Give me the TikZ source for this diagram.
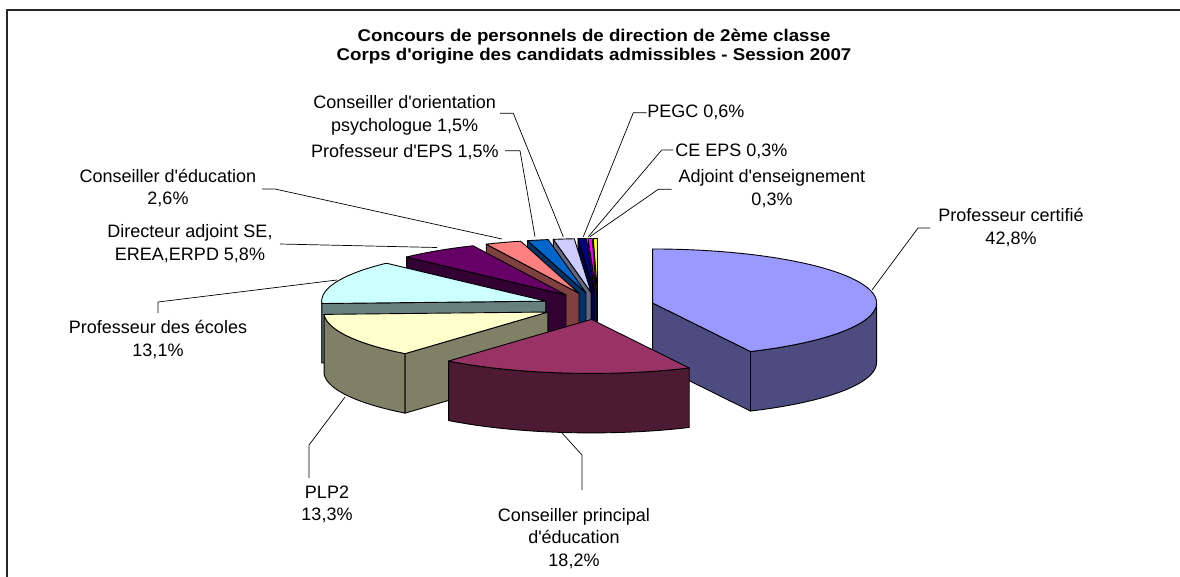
\documentclass[tikz,border=0pt]{standalone}
\usepackage{fontspec}
\setmainfont{Liberation Sans}
\usetikzlibrary{calc}
\newcommand\aq{\textquotesingle}
\definecolor{tCert}{HTML}{9999FF}\definecolor{sCert}{HTML}{4C4C80}
\definecolor{tCpe}{HTML}{993366}\definecolor{sCpe}{HTML}{4C1A33}
\definecolor{tPlp}{HTML}{FFFFCC}\definecolor{sPlp}{HTML}{808066}
\definecolor{tEco}{HTML}{CCFFFF}\definecolor{sEco}{HTML}{668080}
\definecolor{tDir}{HTML}{660066}\definecolor{sDir}{HTML}{330033}
\definecolor{tCe}{HTML}{FF8080}\definecolor{sCe}{HTML}{804040}
\definecolor{tEps}{HTML}{0066CC}\definecolor{sEps}{HTML}{003366}
\definecolor{tCop}{HTML}{CCCCFF}\definecolor{sCop}{HTML}{666680}
\definecolor{tPegc}{HTML}{000080}\definecolor{sPegc}{HTML}{000040}
\definecolor{tCeeps}{HTML}{FF00FF}\definecolor{sCeeps}{HTML}{800080}
\definecolor{tAe}{HTML}{FFFF00}\definecolor{sAe}{HTML}{808000}
\def\Ox{598}\def\Oy{306}\def\RX{224}\def\RY{54}\def\Hh{59.5}\def\Fx{0.25}
\newcommand\PieSlice[5]{%
 \pgfmathsetmacro\mm{(#2+#3)/2}%
 \pgfmathsetmacro\cx{\Ox+\RX*\Fx*sin(\mm)}%
 \pgfmathsetmacro\cy{\Oy-\RY*\Fx*cos(\mm)}%
 \coordinate (#1c) at (\cx,\cy);%
 \coordinate (#1a) at ({\cx+\RX*sin(#2)},{\cy-\RY*cos(#2)});%
 \coordinate (#1b) at ({\cx+\RX*sin(#3)},{\cy-\RY*cos(#3)});%
 \pgfmathsetmacro\lo{max(#2,90)}%
 \pgfmathsetmacro\hi{min(#3,270)}%
 \pgfmathtruncatemacro\vis{\hi>\lo ? 1 : 0}%
 \ifnum\vis=1
  \filldraw[fill=#5] plot[domain=\lo:\hi,samples=60] ({\cx+\RX*sin(\x)},{\cy-\RY*cos(\x)}) -- plot[domain=\hi:\lo,samples=60] ({\cx+\RX*sin(\x)},{\cy+\Hh-\RY*cos(\x)}) -- cycle;
 \fi
 \pgfmathtruncatemacro\vis{sin(#2)<-0.001 ? 1 : 0}%
 \ifnum\vis=1
  \filldraw[fill=#5] (#1c) -- (#1a) -- ++(0,\Hh) -- ($(#1c)+(0,\Hh)$) -- cycle;
 \fi
 \pgfmathtruncatemacro\vis{sin(#3)>0.001 ? 1 : 0}%
 \ifnum\vis=1
  \filldraw[fill=#5] (#1c) -- (#1b) -- ++(0,\Hh) -- ($(#1c)+(0,\Hh)$) -- cycle;
 \fi
 \filldraw[fill=#4] (#1c) -- plot[domain=#2:#3,samples=60] ({\cx+\RX*sin(\x)},{\cy-\RY*cos(\x)}) -- cycle;
}
\begin{document}
\begin{tikzpicture}[x=1pt,y=-1pt,line join=round,line width=0.9pt,
  lab/.style={font=\fontsize{18}{22.7}\selectfont,align=center,inner sep=0pt,anchor=base},
  labl/.style={font=\fontsize{18}{22.7}\selectfont,inner sep=0pt,anchor=base west},
  leader/.style={line width=0.7pt,draw=black}]
\useasboundingbox (0,0) rectangle (1180,576);
\fill[white] (0,0) rectangle (1180,576);
\draw[line width=1.6pt,black!85] (7,600) -- (7,10) -- (1200,10);
% title
\node[font=\fontsize{17}{18.5}\selectfont\bfseries,align=center,inner sep=0pt,anchor=base] (title) at (594,60.2)
 {\scalebox{1.1}[1]{Concours de personnels de direction de 2ème classe}\\\scalebox{1.1}[1]{Corps d\aq origine des candidats admissibles - Session 2007}};
% pie
\PieSlice{ae}{358.92}{360}{tAe}{sAe}
\PieSlice{ceeps}{357.84}{358.92}{tCeeps}{sCeeps}
\PieSlice{pegc}{355.68}{357.84}{tPegc}{sPegc}
\PieSlice{cop}{350.28}{355.68}{tCop}{sCop}
\PieSlice{eps}{344.88}{350.28}{tEps}{sEps}
\PieSlice{ce}{335.52}{344.88}{tCe}{sCe}
\PieSlice{dir}{314.64}{335.52}{tDir}{sDir}
\PieSlice{eco}{267.48}{314.64}{tEco}{sEco}
\PieSlice{cert}{0}{154.08}{tCert}{sCert}
\PieSlice{plp}{219.6}{267.48}{tPlp}{sPlp}
\PieSlice{cpe}{154.08}{219.6}{tCpe}{sCpe}
% labels
\node[lab] (lCert) at (1011,244.2) {Professeur certifié\\42,8\%};
\node[lab] (lCpe) at (574,566.4) {Conseiller principal\\d\aq éducation\\18,2\%};
\node[lab] (lPlp) at (327,520.7) {PLP2\\13,3\%};
\node[lab] (lEco) at (158,356) {Professeur des écoles\\13,1\%};
\node[lab] (lDir) at (190,260) {Directeur adjoint SE,\\EREA,ERPD 5,8\%};
\node[lab] (lCe) at (168,204.7) {Conseiller d\aq éducation\\2,6\%};
\node[lab] (lCop) at (404.7,131) {Conseiller d\aq orientation\\psychologue 1,5\%};
\node[lab] (lEps) at (405,157.3) {Professeur d\aq EPS 1,5\%};
\node[labl] (lPegc) at (647,117.7) {PEGC 0,6\%};
\node[labl] (lCeeps) at (675,156) {CE EPS 0,3\%};
\node[lab] (lAe) at (772,205.4) {Adjoint d\aq enseignement\\0,3\%};
% leaders
\draw[leader] (262,189) -- (275,189) -- (502,239);
\draw[leader] (280,244) -- (437,247.5);
\draw[leader] (158,313) -- (158,302) -- (337,280);
\draw[leader] (500,113.3) -- (513.3,113.3) -- (563.3,236.7);
\draw[leader] (505,150.7) -- (520,150.7) -- (535,236.7);
\draw[leader] (646.7,112.7) -- (633.3,112.7) -- (583.3,236.7);
\draw[leader] (673.3,150) -- (661.7,150) -- (588.3,236.7);
\draw[leader] (671.7,189.3) -- (658.3,189.3) -- (590,236.7);
\draw[leader] (872,290) -- (918,228) -- (930,228);
\draw[leader] (562,433) -- (582,455) -- (582,490);
\draw[leader] (345,397) -- (309,445) -- (309,478);
\end{tikzpicture}
\end{document}
